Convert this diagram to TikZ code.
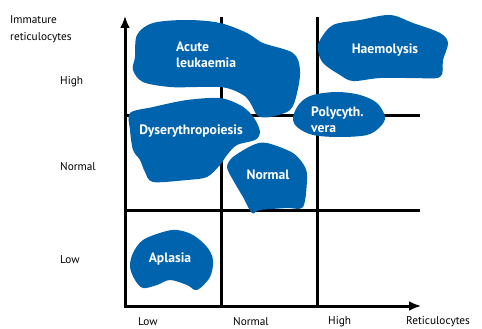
\documentclass[tikz,border=0pt]{standalone}
\usepackage{fontspec}
\setmainfont{PT Sans}
\usetikzlibrary{arrows.meta}
\definecolor{blobblue}{RGB}{0,99,174}
\begin{document}
\begin{tikzpicture}[x=1pt,y=-1pt,
  axis/.style={line width=3pt,-{Latex[length=12pt,width=10pt]}},
  gridline/.style={line width=3pt},
  blob/.style={fill=blobblue,draw=none},
  blobtext/.style={text=white,font=\bfseries\fontsize{13.6}{16.5}\selectfont,align=left,inner sep=0pt},
  axlabel/.style={font=\fontsize{11.3}{16.5}\selectfont,inner sep=0pt,align=left}]
\useasboundingbox (0,0) rectangle (482,329);
% grid
\coordinate (g1t) at (221,17); \coordinate (g1b) at (221,306);
\coordinate (g2t) at (317,17); \coordinate (g2b) at (317,306);
\coordinate (h1l) at (125,115); \coordinate (h1r) at (420,115);
\coordinate (h2l) at (125,210); \coordinate (h2r) at (420,210);
\coordinate (o) at (125,306);
\coordinate (ytip) at (125,16);
\coordinate (xtip) at (421,306);
\draw[gridline] (g1t) -- (g1b);
\draw[gridline] (g2t) -- (g2b);
\draw[gridline] (h1l) -- (h1r);
\draw[gridline] (h2l) -- (h2r);
\draw[axis] ([yshift=1.5pt]o) -- (ytip);
\draw[axis] ([xshift=-1.5pt]o) -- (xtip);
% blobs
\fill[blob] plot[smooth cycle,tension=0.55] coordinates {
 (137,35) (153,23) (187,20) (220,23) (247,33) (263,43) (293,53) (300,70)
 (297,93) (290,110) (270,117) (258,116) (252,106) (246,97) (233,90) (220,87)
 (197,87) (170,87) (143,82) (133,70) (135,57)};
\fill[blob] plot[smooth cycle,tension=0.55] coordinates {
 (320,40) (333,25) (360,20) (390,15) (413,23) (440,33) (448,43) (443,60)
 (440,77) (413,78) (380,78) (353,81) (340,75) (323,63) (318,50)};
\fill[blob] plot[smooth cycle,tension=0.55] coordinates {
 (293,117) (300,103) (313,95) (337,92) (360,95) (377,103) (385,117) (380,127)
 (367,135) (340,137) (313,135) (297,127)};
\fill[blob] plot[smooth cycle,tension=0.5] coordinates {
 (130,113) (153,107) (187,100) (220,98) (240,105) (250,113) (257,123) (260,133)
 (255,140) (237,145) (227,155) (220,165) (207,177) (187,180) (153,182) (145,172)
 (140,160) (133,150) (130,130)};
\fill[blob] plot[smooth cycle,tension=0.5] coordinates {
 (227,167) (233,157) (253,145) (267,143) (293,153) (305,167) (307,180) (303,207)
 (287,208) (260,210) (252,213) (243,197) (233,180)};
\fill[blob] plot[smooth cycle,tension=0.55] coordinates {
 (133,253) (143,240) (163,232) (177,230) (193,235) (207,247) (213,260) (210,277)
 (197,290) (187,285) (170,280) (157,285) (143,288) (135,280) (130,267)};
% blob labels
\node[blobtext,anchor=west] (acute) at (176,55) {Acute\\leukaemia};
\node[blobtext] (haem) at (385,50) {Haemolysis};
\node[blobtext,anchor=west] (poly) at (311,120) {Polycyth.\\vera};
\node[blobtext] (dys) at (191,131) {Dyserythropoiesis};
\node[blobtext] (norm) at (268,175) {Normal};
\node[blobtext] (apl) at (170,259) {Aplasia};
% axis labels
\node[axlabel,anchor=west] (ylab) at (10,29) {Immature\\reticulocytes};
\node[axlabel,anchor=west] (yhigh) at (60,82) {High};
\node[axlabel,anchor=west] (ynorm) at (60,167) {Normal};
\node[axlabel,anchor=west] (ylow) at (60,260) {Low};
\node[axlabel,anchor=west] (xlow) at (138,322) {Low};
\node[axlabel,anchor=west] (xnorm) at (233,322) {Normal};
\node[axlabel,anchor=west] (xhigh) at (328,322) {High};
\node[axlabel,anchor=west] (xlab) at (406,322) {Reticulocytes};
\end{tikzpicture}
\end{document}
